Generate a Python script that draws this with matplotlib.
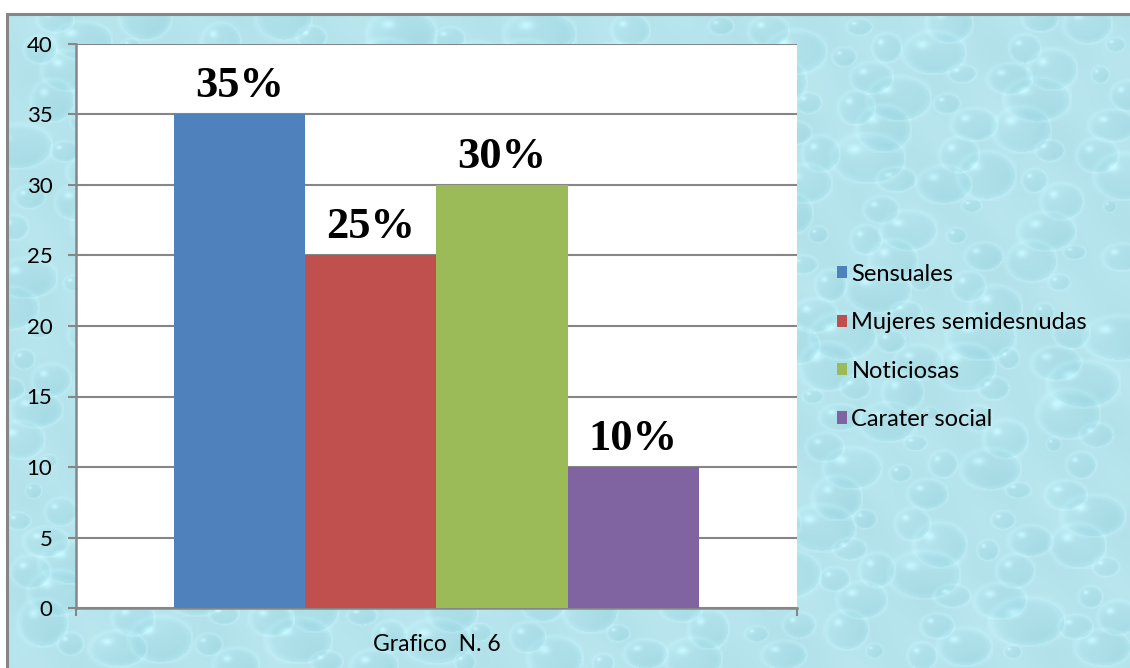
import numpy as np
import matplotlib.pyplot as plt
from matplotlib.lines import Line2D

# Data
category = ["Grafico  N. 6"]
series = ["Sensuales", "Mujeres semidesnudas", "Noticiosas", "Carater social"]
values = [35, 25, 30, 10]
colors = ["#4f81bd", "#c0504d", "#9bbb59", "#8064a2"]
yticks = [0, 5, 10, 15, 20, 25, 30, 35, 40]

W, H = 1130, 668
fig = plt.figure(figsize=(W / 100, H / 100), dpi=100)
fig.patch.set_facecolor("white")

# Aqua water-drop backdrop for the chart area
TW, TH = W - 7, H - 14
yy, xx = np.mgrid[0:TH, 0:TW].astype(float)
base = np.array([182, 228, 236]) / 255.0
img = np.ones((TH, TW, 3)) * base
soft = (0.5 * np.sin(xx / 31 + yy / 57) * np.cos(yy / 23 - xx / 90)
        + 0.5 * np.sin(xx / 13 - yy / 17))
img += 0.015 * soft[..., None] * np.array([1.0, 0.7, 0.6])

phi1, phi2 = 0.7548776662, 0.5698402910
for k in range(1, 420):
    cx = (k * phi1 % 1.0) * TW
    cy = (k * phi2 % 1.0) * TH
    r = 6 + 18 * ((k * 0.318309886) % 1.0)
    ex = 1.0 + 0.6 * ((k * 0.41421356) % 1.0)
    x0, x1 = int(max(cx - r * ex - 3, 0)), int(min(cx + r * ex + 3, TW))
    y0, y1 = int(max(cy - r - 3, 0)), int(min(cy + r + 3, TH))
    if x1 <= x0 or y1 <= y0:
        continue
    px = (xx[y0:y1, x0:x1] - cx) / (r * ex)
    py = (yy[y0:y1, x0:x1] - cy) / r
    d = np.sqrt(px ** 2 + py ** 2)
    body = (d < 1) * (0.3 + 0.7 * np.clip((px + py) * 0.5 + 0.5, 0, 1))
    rim = np.exp(-((d - 1.0) / 0.15) ** 2)
    hi = np.exp(-(((px + 0.4) ** 2 + (py + 0.4) ** 2) / 0.04))
    patch = img[y0:y1, x0:x1]
    patch -= (0.05 * body)[..., None] * np.array([1.0, 0.55, 0.45])
    patch += (0.025 * rim + 0.08 * hi * (d < 1))[..., None]
img = np.clip(img, 0, 1)

bg = fig.add_axes([7 / W, 0, TW / W, TH / H], zorder=-5)
bg.imshow(img, aspect="auto", interpolation="bilinear")
bg.set_axis_off()

# Grey outline of the chart area
fig.add_artist(Line2D([7 / W, 7 / W], [0, 1 - 14 / H], color="#868686", lw=2.2,
                      transform=fig.transFigure))
fig.add_artist(Line2D([7 / W, 1], [1 - 14 / H, 1 - 14 / H], color="#868686", lw=2.2,
                      transform=fig.transFigure))

# Plot area
ax = fig.add_axes([76 / W, (H - 608) / H, (797 - 76) / W, (608 - 44) / H])
ax.set_facecolor("white")

n = len(series)
bar_w = 1.0 / (n + 1.5)
offsets = (np.arange(n) - (n - 1) / 2) * bar_w
bars = []
for i in range(n):
    b = ax.bar(offsets[i], values[i], width=bar_w, color=colors[i],
               label=series[i], zorder=3)
    ax.bar_label(b, labels=[f"{values[i]}%"], padding=6,
                 fontsize=32, fontweight="bold", family="Liberation Serif",
                 color="black")
    bars.append(b)

ax.set_xlim(-0.5, 0.5)
ax.set_ylim(0, 40)
ax.set_yticks(yticks)
ax.yaxis.grid(True, color="#868686", lw=1.5, zorder=0)
ax.set_axisbelow(True)

ax.set_xticks([0])
ax.set_xticklabels(category, family="Lato", fontsize=16.5)
ax.tick_params(axis="x", length=0, pad=19)
ax.set_xticks([-0.5, 0.5], minor=True)
ax.tick_params(axis="x", which="minor", length=6, width=1.5, color="#868686")
ax.tick_params(axis="y", length=6, width=1.5, color="#868686", labelsize=16,
               pad=11)
for lab in ax.get_yticklabels():
    lab.set_family("Lato")

for s in ["top", "right"]:
    ax.spines[s].set_visible(False)
for s in ["left", "bottom"]:
    ax.spines[s].set_color("#868686")
    ax.spines[s].set_linewidth(1.8)

fig.legend(handles=[b[0] for b in bars], labels=series,
           loc="upper left", bbox_to_anchor=(825 / W, 1 - 252 / H),
           frameon=False, prop={"family": "Lato", "size": 17},
           handlelength=0.42, handleheight=0.42, handletextpad=0.2,
           labelspacing=1.16, borderpad=0)

fig.savefig("out.png", dpi=100)
